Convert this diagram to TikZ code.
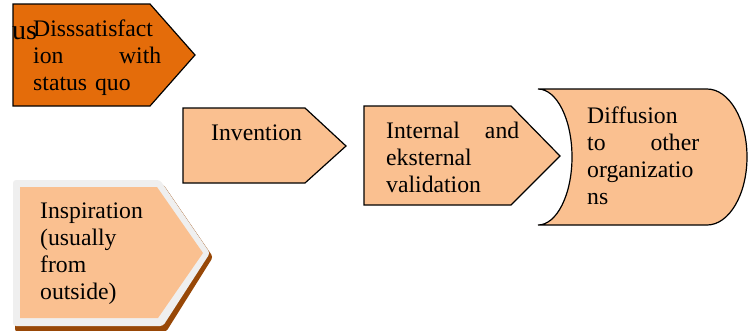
\documentclass[tikz,border=0pt]{standalone}
\usepackage{fontspec}
\setmainfont{Liberation Serif}
\definecolor{darkor}{HTML}{E46C0A}
\definecolor{lightor}{HTML}{FAC090}
\definecolor{shgray}{HTML}{EFEFEF}
\definecolor{shbrown}{HTML}{984807}
\tikzset{
  shapeline/.style={draw=black, line width=1.2pt, line join=miter},
  txt/.style={anchor=base west, inner sep=0pt, align=left, font=\fontsize{23.7}{27.3}\selectfont},
}
\begin{document}
\begin{tikzpicture}[x=1pt,y=1pt]
\useasboundingbox (0,0) rectangle (749,-330);
% shape 1
\path[shapeline, fill=darkor] (13,-4) -- (150,-4) -- (195,-55) -- (150,-106) -- (13,-106) -- cycle;
\node[txt, font=\fontsize{28}{30}\selectfont] (us) at (12,-39) {us};
\node[txt, text width=128pt] (t1) at (33,-36) {Disssatisfact\\ ion\hfill with\\ status quo};
% shape 2
\path[shapeline, fill=lightor] (183,-108) -- (305,-108) -- (346,-146) -- (305,-183) -- (183,-183) -- cycle;
\node[txt] (t2) at (211,-140) {Invention};
% shape 3
\path[shapeline, fill=lightor] (364,-106) -- (511,-106) -- (560,-156) -- (511,-205) -- (364,-205) -- cycle;
\node[txt, text width=133pt] (t3) at (386,-138) {Internal\hfill and\\ eksternal\\ validation};
% shape 4
\path[shapeline, fill=lightor] (538,-89) -- (707,-89) arc[start angle=90, end angle=-90, x radius=40pt, y radius=68pt] -- (538,-225) arc[start angle=-90, end angle=90, x radius=34pt, y radius=68pt] -- cycle;
\node[txt, text width=112pt] (t4) at (587,-123) {Diffusion\\ to\hfill other\\ organizatio\\ ns};
% shape 5
\path[fill=shbrown, rounded corners=3pt] (15,-184) -- (163,-184) -- (213,-257) -- (166,-332) -- (15,-332) -- cycle;
\path[fill=shgray, rounded corners=3pt] (13,-180) -- (160,-180) -- (210,-253) -- (163,-326) -- (13,-326) -- cycle;
\path[fill=lightor] (20,-187) -- (157,-187) -- (203,-253) -- (158,-318) -- (20,-318) -- cycle;
\node[txt, text width=120pt] (t5) at (40,-218) {Inspiration\\ (usually\\ from\\ outside)};
\end{tikzpicture}
\end{document}
